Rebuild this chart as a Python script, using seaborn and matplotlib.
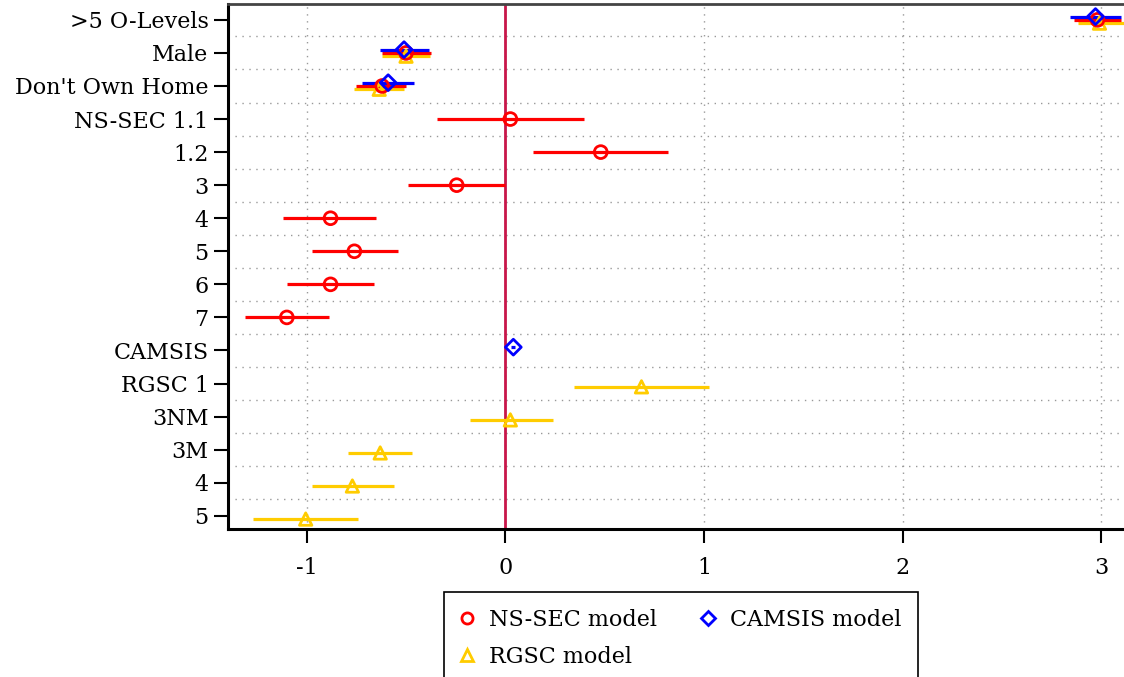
import matplotlib
matplotlib.use("Agg")
import matplotlib.pyplot as plt
import seaborn as sns
import pandas as pd
import numpy as np
from matplotlib.lines import Line2D

# ---- data ----
categories = [">5 O-Levels", "Male", "Don't Own Home", "NS-SEC 1.1", "1.2", "3", "4", "5",
              "6", "7", "CAMSIS", "RGSC 1", "3NM", "3M", "4", "5"]

# NS-SEC model: (row index, estimate, lower, upper)
nssec_rows = [0, 1, 2, 3, 4, 5, 6, 7, 8, 9]
nssec_est = [2.98, -0.50, -0.62, 0.025, 0.48, -0.245, -0.88, -0.76, -0.88, -1.10]
nssec_lo = [2.86, -0.62, -0.75, -0.345, 0.14, -0.49, -1.12, -0.975, -1.10, -1.31]
nssec_hi = [3.10, -0.375, -0.50, 0.396, 0.82, 0.0, -0.65, -0.54, -0.66, -0.89]

# CAMSIS model
camsis_rows = [0, 1, 2, 10]
camsis_est = [2.97, -0.51, -0.59, 0.04]
camsis_lo = [2.84, -0.63, -0.72, 0.03]
camsis_hi = [3.10, -0.386, -0.46, 0.05]

# RGSC model
rgsc_rows = [0, 1, 2, 11, 12, 13, 14, 15]
rgsc_est = [2.99, -0.50, -0.635, 0.685, 0.025, -0.63, -0.77, -1.005]
rgsc_lo = [2.88, -0.62, -0.76, 0.345, -0.18, -0.79, -0.975, -1.27]
rgsc_hi = [3.12, -0.38, -0.51, 1.025, 0.24, -0.47, -0.56, -0.74]

x_ticks = [-1, 0, 1, 2, 3]
model_names = ["NS-SEC model", "CAMSIS model", "RGSC model"]

# ---- styling ----
sns.set_style("white", rc={"text.color": "black", "xtick.color": "black",
                           "ytick.color": "black", "axes.labelcolor": "black"})
plt.rcParams['font.family'] = ['DejaVu Serif']

colors = {"NS-SEC model": "#ff0000", "CAMSIS model": "#0000ff", "RGSC model": "#ffcc00"}
markers = {"NS-SEC model": "o", "CAMSIS model": "D", "RGSC model": "^"}
offsets = {"NS-SEC model": 0.0, "CAMSIS model": -0.10, "RGSC model": 0.10}
msizes = {"NS-SEC model": 85, "CAMSIS model": 65, "RGSC model": 80}

frames = []
for name, rows, est, lo, hi in [
    ("NS-SEC model", nssec_rows, nssec_est, nssec_lo, nssec_hi),
    ("CAMSIS model", camsis_rows, camsis_est, camsis_lo, camsis_hi),
    ("RGSC model", rgsc_rows, rgsc_est, rgsc_lo, rgsc_hi),
]:
    frames.append(pd.DataFrame({"model": name, "row": rows, "est": est, "lo": lo, "hi": hi}))
df = pd.concat(frames, ignore_index=True)
df["y"] = df["row"] + df["model"].map(offsets)

fig = plt.figure(figsize=(11.24, 6.77), dpi=100)
ax = fig.add_axes([228 / 1124, 1 - 529 / 677, 1 - 228 / 1124 + 0.01, (529 - 4) / 677])

# grid
for r in range(len(categories) - 1):
    ax.axhline(r + 0.5, color="#999999", lw=1.0, ls=(0, (1, 4)), zorder=0)
for xt in x_ticks:
    ax.axvline(xt, color="#999999", lw=1.0, ls=(0, (1, 4)), zorder=0)
ax.axvline(0, color="#c8164a", lw=2.0, zorder=1)

draw_order = ["RGSC model", "NS-SEC model", "CAMSIS model"]
for name in draw_order:
    sub = df[df["model"] == name]
    ax.hlines(sub["y"], sub["lo"], sub["hi"], color=colors[name], lw=2.3, zorder=2)

for name in draw_order:
    sub = df[df["model"] == name]
    sns.scatterplot(data=sub, x="est", y="y", ax=ax, marker=markers[name], s=msizes[name],
                    facecolor="none", edgecolor=colors[name], linewidth=2.0, zorder=3,
                    legend=False)

ax.set_xlim(-1.396, 3.17)
ax.set_ylim(15.4, -0.48)
ax.set_yticks(range(len(categories)))
ax.set_yticklabels(categories)
ax.set_xticks(x_ticks)
ax.set_xticklabels([str(t) for t in x_ticks])
ax.set_xlabel("")
ax.set_ylabel("")
ax.tick_params(axis="both", which="both", length=10, width=1.5, color="black",
               labelcolor="black", labelsize=16, direction="out", left=True, bottom=True)
ax.tick_params(axis="x", pad=10)
ax.tick_params(axis="y", pad=4)

for side in ["left", "bottom"]:
    ax.spines[side].set_linewidth(2.2)
    ax.spines[side].set_color("black")
ax.spines["top"].set_linewidth(2.0)
ax.spines["top"].set_color("#444444")
ax.spines["right"].set_visible(False)

handles = [
    Line2D([], [], ls="none", marker="o", markersize=8, markerfacecolor="none",
           markeredgecolor=colors["NS-SEC model"], markeredgewidth=2),
    Line2D([], [], ls="none", marker="^", markersize=8, markerfacecolor="none",
           markeredgecolor=colors["RGSC model"], markeredgewidth=2),
    Line2D([], [], ls="none", marker="D", markersize=7, markerfacecolor="none",
           markeredgecolor=colors["CAMSIS model"], markeredgewidth=2),
]
labels = ["NS-SEC model", "RGSC model", "CAMSIS model"]
leg = fig.legend(handles, labels, ncol=2, loc="upper left",
                 bbox_to_anchor=(444 / 1124, 1 - 592 / 677), fontsize=16,
                 frameon=True, fancybox=False, edgecolor="black", framealpha=1.0,
                 borderpad=0.75, borderaxespad=0.0,
                 columnspacing=2.0, handletextpad=0.7, labelspacing=0.7, handlelength=0.58)
leg.get_frame().set_linewidth(1.2)
for t in leg.get_texts():
    t.set_color("black")

fig.savefig("out.png", dpi=100)
